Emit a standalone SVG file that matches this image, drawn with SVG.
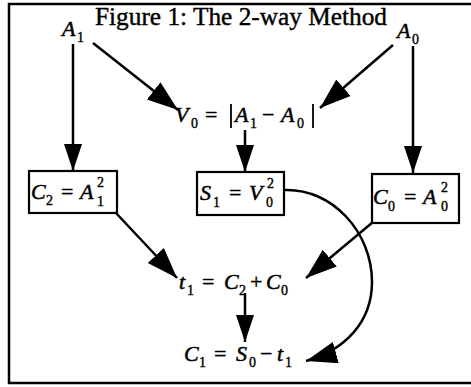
<svg xmlns="http://www.w3.org/2000/svg" width="471" height="387" viewBox="0 0 471 387">
<style>
.t{font-family:"Liberation Serif","DejaVu Serif",serif;fill:#000;stroke:#000;stroke-width:0.4}
.v{font-family:"Liberation Serif","DejaVu Serif",serif;font-style:italic;font-size:22px;fill:#000;stroke:#000;stroke-width:0.5}
.s{font-family:"Liberation Serif","DejaVu Serif",serif;font-size:14px;fill:#000;stroke:#000;stroke-width:0.4}
.o{font-family:"Liberation Serif","DejaVu Serif",serif;font-size:22px;fill:#000;stroke:#000;stroke-width:0.4}
.box{fill:#fff;stroke:#000;stroke-width:2.2}
.c{fill:none;stroke:#000;stroke-width:2.5}
</style>
<defs>
<marker id="ah" markerUnits="userSpaceOnUse" markerWidth="30" markerHeight="20" refX="27" refY="9" orient="auto" viewBox="0 0 30 20">
<path d="M0,0 L27,9 L0,18 z" fill="#000"/>
</marker>
<marker id="ahb" markerUnits="userSpaceOnUse" markerWidth="34" markerHeight="24" refX="31" refY="11" orient="auto" viewBox="0 0 34 24">
<path d="M0,0 L31,11 L0,22 z" fill="#000"/>
</marker>
</defs>
<rect x="9" y="4" width="470" height="379" fill="none" stroke="#000" stroke-width="2.5"/>
<text class="t" x="95" y="25" font-size="25" textLength="292" lengthAdjust="spacingAndGlyphs">Figure 1: The 2-way Method</text>
<g id="connectors">
<line class="c" x1="73" y1="44" x2="73" y2="171" marker-end="url(#ah)"/>
<line class="c" x1="413" y1="46" x2="413" y2="173" marker-end="url(#ah)"/>
<line class="c" x1="245" y1="130" x2="245" y2="172" marker-end="url(#ah)"/>
<line class="c" x1="93" y1="43" x2="178" y2="110" marker-end="url(#ahb)"/>
<line class="c" x1="393" y1="45" x2="320" y2="108" marker-end="url(#ahb)"/>
<line class="c" x1="116" y1="213" x2="177" y2="278" marker-end="url(#ahb)"/>
<line class="c" x1="373" y1="222" x2="306" y2="278" marker-end="url(#ahb)"/>
<line class="c" x1="245" y1="293" x2="245" y2="342" marker-end="url(#ah)"/>
<path class="c" d="M284,190 C332,188 372,232 372,282 C372,322 345,350 306,361" marker-end="url(#ahb)"/>
</g>
<g id="A1">
<text class="v" x="62" y="36">A</text><text class="s" x="77" y="42">1</text>
</g>
<g id="A0">
<text class="v" x="397" y="38">A</text><text class="s" x="412" y="44">0</text>
</g>
<g id="V0">
<text class="v" x="175" y="122">V</text><text class="s" x="191" y="128">0</text>
<text class="o" x="205" y="122">=</text>
<line x1="231" y1="104" x2="231" y2="128" stroke="#000" stroke-width="1.8"/>
<text class="v" x="235" y="122">A</text><text class="s" x="250" y="128">1</text>
<text class="o" x="262" y="122">−</text>
<text class="v" x="281" y="122">A</text><text class="s" x="297" y="128">0</text>
<line x1="313" y1="104" x2="313" y2="128" stroke="#000" stroke-width="1.8"/>
</g>
<g id="C2">
<rect class="box" x="29" y="171" width="88" height="42"/>
<text class="v" x="31" y="199">C</text><text class="s" x="46" y="205">2</text>
<text class="o" x="61" y="199">=</text>
<text class="v" x="80" y="199">A</text><text class="s" x="97" y="187">2</text><text class="s" x="97" y="206">1</text>
</g>
<g id="S1">
<rect class="box" x="197" y="172" width="87" height="43"/>
<text class="v" x="200" y="200">S</text><text class="s" x="213" y="207">1</text>
<text class="o" x="229" y="200">=</text>
<text class="v" x="249" y="200">V</text><text class="s" x="267" y="188">2</text><text class="s" x="266" y="207">0</text>
</g>
<g id="C0">
<rect class="box" x="372" y="174" width="87" height="49"/>
<text class="v" x="373" y="204">C</text><text class="s" x="388" y="211">0</text>
<text class="o" x="404" y="204">=</text>
<text class="v" x="423" y="204">A</text><text class="s" x="441" y="192">2</text><text class="s" x="441" y="211">0</text>
</g>
<g id="t1">
<text class="v" x="179" y="289">t</text><text class="s" x="187" y="295">1</text>
<text class="o" x="202" y="289">=</text>
<text class="v" x="224" y="289">C</text><text class="s" x="239" y="295">2</text>
<text class="o" x="250" y="289">+</text>
<text class="v" x="266" y="289">C</text><text class="s" x="281" y="295">0</text>
</g>
<g id="C1">
<text class="v" x="184" y="361">C</text><text class="s" x="199" y="367">1</text>
<text class="o" x="214" y="361">=</text>
<text class="v" x="236" y="361">S</text><text class="s" x="249" y="367">0</text>
<text class="o" x="260" y="361">−</text>
<text class="v" x="277" y="361">t</text><text class="s" x="285" y="367">1</text>
</g>
</svg>
